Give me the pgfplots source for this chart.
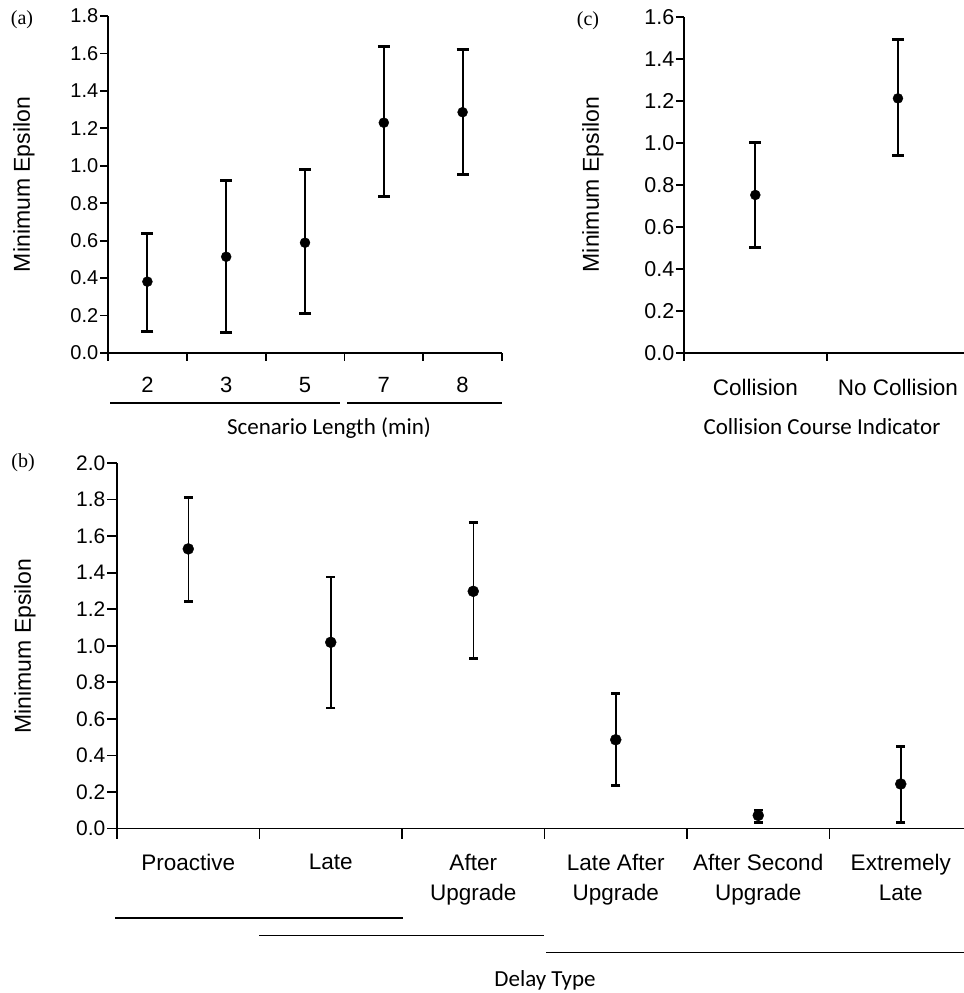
\documentclass[border=0pt]{standalone}
\usepackage{pgfplots}
\pgfplotsset{compat=1.18}
\usepackage{fontspec}
\setmainfont{Liberation Sans}
\newfontfamily\carlito{Carlito}
\newfontfamily\timesf{Liberation Serif}

\pgfplotsset{
  panel/.style={
    scale only axis, axis lines*=left,
    axis line style={line width=1.8bp, black},
    every tick/.style={black, line width=1.8bp},
    tick align=outside, major tick length=8bp,
    ymin=0, xmin=-0.5,
    ytick pos=left, xtick pos=bottom,
    yticklabel style={font=\fontsize{20bp}{24bp}\selectfont, inner sep=1.5bp,
      /pgf/number format/fixed, /pgf/number format/fixed zerofill,
      /pgf/number format/precision=1, /pgf/number format/assume math mode=true},
    extra x tick style={major tick length=0bp},
    xticklabels={},
  },
  ebars/.style={black, only marks, mark=*, mark size=5bp,
    error bars/.cd, y dir=both, y explicit, error mark=|,
    error bar style={line width=2bp, black},
    error mark options={line width=3bp, mark size=6bp, black}},
}

\begin{document}
\begin{tikzpicture}[x=1bp,y=1bp]
\useasboundingbox (0,0) rectangle (964,993);

% ---------- panel (a) ----------
\begin{axis}[panel,
  at={(147.4bp,640bp)}, anchor=origin, width=394bp, height=337bp,
  xmax=4.5, ymax=1.8, ytick={0,0.2,...,1.8},
  xtick={-0.5,0.5,1.5,2.5,3.5,4.5},
  extra x ticks={0,1,2,3,4},
  extra x tick labels={2,3,5,7,8},
  extra x tick style={major tick length=0bp,
    xticklabel style={font=\fontsize{22bp}{26bp}\selectfont, inner sep=0bp, yshift=-24bp}},
]
\addplot[ebars] table[x=x, y=y, y error plus=ep, y error minus=em] {
x y ep em
0 0.381 0.258 0.264
1 0.514 0.405 0.406
2 0.589 0.389 0.377
3 1.230 0.406 0.395
4 1.286 0.333 0.335
};
\end{axis}

% ---------- panel (c) ----------
\begin{axis}[panel,
  at={(755.3bp,640.3bp)}, anchor=origin, width=280bp, height=336bp,
  xmax=1.463, ymax=1.6, ytick={0,0.2,...,1.6},
  yticklabel style={font=\fontsize{21.5bp}{24bp}\selectfont},
  xtick={-0.5,0.5},
  extra x ticks={0,1},
  extra x tick labels={Collision,No Collision},
  extra x tick style={major tick length=0bp,
    xticklabel style={font=\fontsize{22.5bp}{26bp}\selectfont, inner sep=0bp, yshift=-26bp}},
]
\addplot[ebars] table[x=x, y=y, y error plus=ep, y error minus=em] {
x y ep em
0 0.751 0.251 0.251
1 1.211 0.281 0.273
};
\end{axis}

% ---------- panel (b) ----------
\begin{axis}[panel,
  at={(188.25bp,164.4bp)}, anchor=origin, width=847bp, height=365.6bp,
  xmax=5.444, ymax=2.0, ytick={0,0.2,...,2.0},
  yticklabel style={font=\fontsize{21bp}{24bp}\selectfont},
  major tick length=10bp,
  xtick={-0.5,0.5,1.5,2.5,3.5,4.5},
  extra x ticks={0,1,2,3,4,5},
  extra x tick labels={Proactive,Late,After\\Upgrade,Late After\\Upgrade,After Second\\Upgrade,Extremely\\Late},
  extra x tick style={major tick length=0bp,
    xticklabel style={font=\fontsize{22.5bp}{30bp}\selectfont, align=center, inner sep=0bp, yshift=-25bp}},
]
\addplot[black, only marks, mark=*, mark size=5.5bp,
  error bars/.cd, y dir=both, y explicit, error mark=|,
  error bar style={line width=1.5bp, black},
  error mark options={line width=2.5bp, mark size=4.5bp, black}]
  table[x=x, y=y, y error plus=ep, y error minus=em] {
x y ep em
0 1.530 0.282 0.289
1 1.019 0.358 0.360
2 1.298 0.377 0.367
3 0.486 0.253 0.250
4 0.072 0.030 0.040
5 0.244 0.205 0.212
};
\end{axis}

% ---------- annotations ----------
\node[font=\timesf\fontsize{20bp}{24bp}\selectfont] at (22,973) {(a)};
\node[font=\timesf\fontsize{20bp}{24bp}\selectfont] at (588,972) {(c)};
\node[font=\timesf\fontsize{20bp}{24bp}\selectfont] at (23,530) {(b)};

\node[rotate=90, font=\fontsize{23bp}{26bp}\selectfont] at (24,808.5) {Minimum Epsilon};
\node[rotate=90, font=\fontsize{23bp}{26bp}\selectfont] at (593,808.3) {Minimum Epsilon};
\node[rotate=90, font=\fontsize{23bp}{26bp}\selectfont] at (25,347) {Minimum Epsilon};

\draw[line width=1.5bp] (110,590) -- (340,590);
\draw[line width=1.5bp] (347,590) -- (502,590);
\node[font=\carlito\fontsize{23bp}{26bp}\selectfont] at (329,565) {Scenario Length (min)};
\node[font=\carlito\fontsize{23bp}{26bp}\selectfont] at (822,566) {Collision Course Indicator};

\draw[line width=1.5bp] (115,75) -- (402.7,75);
\draw[line width=1.5bp] (259,57.3) -- (543.5,57.3);
\draw[line width=1.5bp] (546,40.5) -- (964,40.5);
\node[font=\carlito\fontsize{23bp}{26bp}\selectfont] at (545,13) {Delay Type};
\end{tikzpicture}
\end{document}
